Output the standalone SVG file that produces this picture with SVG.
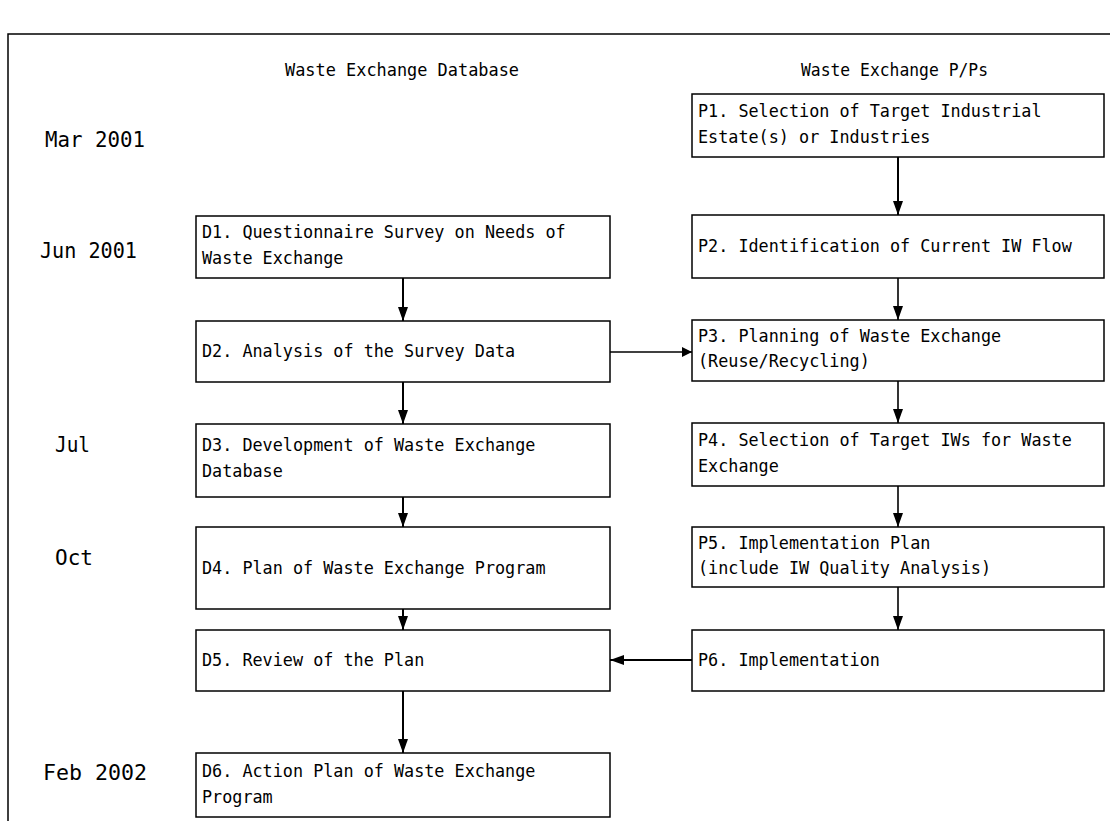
<svg xmlns="http://www.w3.org/2000/svg" width="1110" height="821" viewBox="0 0 1110 821">
<defs>
<style>
.bg{fill:#ffffff}
.frame{stroke:#000;stroke-width:1.5;fill:none}
.box{fill:#fff;stroke:#000;stroke-width:1.5}
.t{font-family:"DejaVu Sans Mono","Liberation Mono",monospace;font-size:16.8px;fill:#000}
.hd{font-family:"DejaVu Sans Mono","Liberation Mono",monospace;font-size:17px;fill:#000}
.dt{font-family:"DejaVu Sans Mono","Liberation Mono",monospace;font-size:22px;fill:#000}
.c{stroke:#000;stroke-width:2;fill:none}
.c2{stroke:#000;stroke-width:1.6;fill:none}
</style>
<marker id="ah" viewBox="0 0 10 10" refX="10" refY="5" markerWidth="10" markerHeight="10" markerUnits="userSpaceOnUse" orient="auto">
<path d="M0,0 L10,5 L0,10 z" fill="#000"/>
</marker>
<marker id="ahL" viewBox="0 0 14 10" refX="14" refY="5" markerWidth="14" markerHeight="11" markerUnits="userSpaceOnUse" orient="auto">
<path d="M0,0 L14,5 L0,10 z" fill="#000"/>
</marker>
</defs>
<rect class="bg" x="0" y="0" width="1110" height="821"/>
<path class="frame" d="M8,821 V34 H1110"/>

<g id="headers">
<text class="hd" x="285" y="76" textLength="234" lengthAdjust="spacingAndGlyphs">Waste Exchange Database</text>
<text class="hd" x="801" y="76" textLength="187" lengthAdjust="spacingAndGlyphs">Waste Exchange P/Ps</text>
</g>

<g id="dates">
<text class="dt" x="45" y="147" textLength="100" lengthAdjust="spacingAndGlyphs">Mar 2001</text>
<text class="dt" x="40" y="258" textLength="97" lengthAdjust="spacingAndGlyphs">Jun 2001</text>
<text class="dt" x="55" y="452" textLength="35" lengthAdjust="spacingAndGlyphs">Jul</text>
<text class="dt" x="55" y="565" textLength="38" lengthAdjust="spacingAndGlyphs">Oct</text>
<text class="dt" x="43" y="780" textLength="104" lengthAdjust="spacingAndGlyphs">Feb 2002</text>
</g>

<g id="D1"><rect class="box" x="196" y="216" width="414" height="62"/>
<text class="t" x="202" y="238">D1. Questionnaire Survey on Needs of</text>
<text class="t" x="202" y="264">Waste Exchange</text></g>
<g id="D2"><rect class="box" x="196" y="321" width="414" height="61"/>
<text class="t" x="202" y="357">D2. Analysis of the Survey Data</text></g>
<g id="D3"><rect class="box" x="196" y="424" width="414" height="73"/>
<text class="t" x="202" y="451">D3. Development of Waste Exchange</text>
<text class="t" x="202" y="477">Database</text></g>
<g id="D4"><rect class="box" x="196" y="527" width="414" height="82"/>
<text class="t" x="202" y="574">D4. Plan of Waste Exchange Program</text></g>
<g id="D5"><rect class="box" x="196" y="630" width="414" height="61"/>
<text class="t" x="202" y="666">D5. Review of the Plan</text></g>
<g id="D6"><rect class="box" x="196" y="753" width="414" height="64"/>
<text class="t" x="202" y="777">D6. Action Plan of Waste Exchange</text>
<text class="t" x="202" y="803">Program</text></g>

<g id="P1"><rect class="box" x="692" y="94" width="412" height="63"/>
<text class="t" x="698" y="117">P1. Selection of Target Industrial</text>
<text class="t" x="698" y="143">Estate(s) or Industries</text></g>
<g id="P2"><rect class="box" x="692" y="215" width="412" height="63"/>
<text class="t" x="698" y="252">P2. Identification of Current IW Flow</text></g>
<g id="P3"><rect class="box" x="692" y="320" width="412" height="61"/>
<text class="t" x="698" y="342">P3. Planning of Waste Exchange</text>
<text class="t" x="698" y="367">(Reuse/Recycling)</text></g>
<g id="P4"><rect class="box" x="692" y="423" width="412" height="63"/>
<text class="t" x="698" y="446">P4. Selection of Target IWs for Waste</text>
<text class="t" x="698" y="472">Exchange</text></g>
<g id="P5"><rect class="box" x="692" y="527" width="412" height="60"/>
<text class="t" x="698" y="549">P5. Implementation Plan</text>
<text class="t" x="698" y="574">(include IW Quality Analysis)</text></g>
<g id="P6"><rect class="box" x="692" y="630" width="412" height="61"/>
<text class="t" x="698" y="666">P6. Implementation</text></g>

<g id="connectors">
<line class="c" x1="898" y1="157" x2="898" y2="215" marker-end="url(#ahL)"/>
<line class="c" x1="403" y1="278" x2="403" y2="321" marker-end="url(#ahL)"/>
<line class="c2" x1="898" y1="278" x2="898" y2="320" marker-end="url(#ahL)"/>
<line class="c2" x1="610" y1="352" x2="692" y2="352" marker-end="url(#ah)"/>
<line class="c" x1="403" y1="382" x2="403" y2="424" marker-end="url(#ahL)"/>
<line class="c2" x1="898" y1="381" x2="898" y2="423" marker-end="url(#ahL)"/>
<line class="c" x1="403" y1="497" x2="403" y2="527" marker-end="url(#ahL)"/>
<line class="c2" x1="898" y1="486" x2="898" y2="527" marker-end="url(#ahL)"/>
<line class="c" x1="403" y1="609" x2="403" y2="630" marker-end="url(#ahL)"/>
<line class="c2" x1="898" y1="587" x2="898" y2="630" marker-end="url(#ahL)"/>
<line class="c" x1="692" y1="660" x2="610" y2="660" marker-end="url(#ahL)"/>
<line class="c" x1="403" y1="691" x2="403" y2="753" marker-end="url(#ahL)"/>
</g>
</svg>
